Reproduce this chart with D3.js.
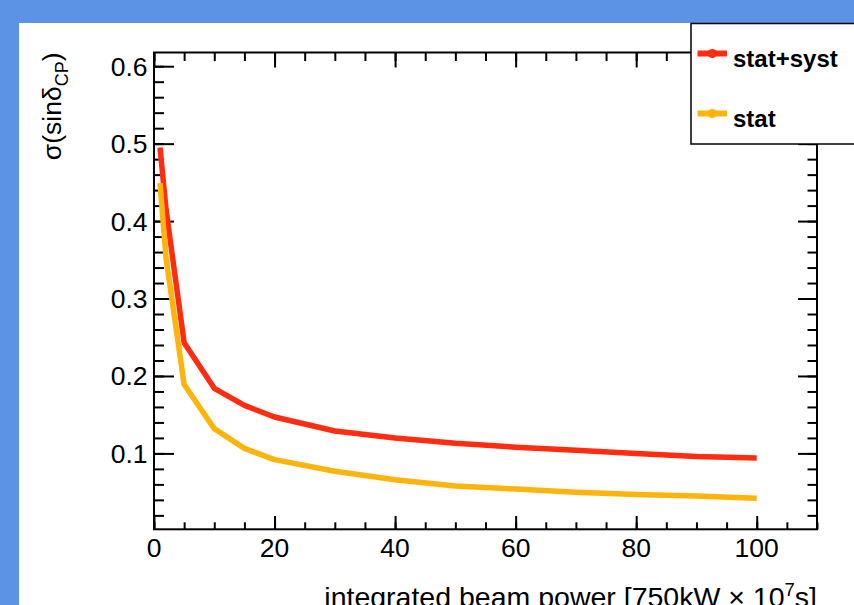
<!DOCTYPE html>
<html>
<head>
<meta charset="utf-8">
<script src="https://cdn.jsdelivr.net/npm/d3@7"></script>
<style>
  html, body { margin: 0; padding: 0; background: #5c93e4; }
  svg { display: block; }
  text { font-family: "Liberation Sans", Arial, Helvetica, sans-serif; fill: #000; }
</style>
</head>
<body>
<svg id="chart" width="854" height="605"></svg>
<script>
// Integrated beam power (units of 750kW x 1e7 s)
const exposure = [1, 2, 5, 10, 15, 20, 30, 40, 50, 60, 70, 80, 90, 100];
// Expected resolution on sin(delta_CP)
const statSyst = [0.495, 0.415, 0.243, 0.184, 0.162, 0.147, 0.129, 0.120, 0.113, 0.108, 0.104, 0.100, 0.096, 0.094];
const statOnly = [0.449, 0.352, 0.189, 0.132, 0.1065, 0.092, 0.077, 0.066, 0.058, 0.054, 0.050, 0.047, 0.045, 0.042];

const xTickValues = [0, 20, 40, 60, 80, 100];
const yTickValues = [0.1, 0.2, 0.3, 0.4, 0.5, 0.6];

const seriesNames = ["stat+syst", "stat"];
const seriesColors = ["#ff2c10", "#ffb40c"];

const svg = d3.select("#chart");

// white pad inside the blue canvas
svg.append("rect").attr("x", 19).attr("y", 23).attr("width", 835).attr("height", 582).attr("fill", "#fff");

const frame = { left: 154, right: 817, top: 52.5, bottom: 529.3 };

const x = d3.scaleLinear().domain([0, 110]).range([frame.left, frame.right]);
const y = d3.scaleLinear().domain([0.002, 0.6177]).range([frame.bottom, frame.top]);

const minorX = d3.range(0, 111, 5);
const minorY = d3.range(1, 31).map(i => +(i * 0.02).toFixed(2));

// axes: ticks drawn inward on all four sides
function tickAxis(axisFn, scale, values, size, g) {
  g.call(axisFn(scale).tickValues(values).tickSize(size).tickFormat(""))
   .call(s => s.select(".domain").remove())
   .call(s => s.selectAll(".tick line").attr("stroke", "#000").attr("stroke-width", 2));
}

const bottomMinor = svg.append("g").attr("transform", `translate(0,${frame.bottom})`);
tickAxis(d3.axisTop, x, minorX, 7, bottomMinor);
const bottomMajor = svg.append("g").attr("transform", `translate(0,${frame.bottom})`);
tickAxis(d3.axisTop, x, xTickValues, 13.3, bottomMajor);

const topMinor = svg.append("g").attr("transform", `translate(0,${frame.top})`);
tickAxis(d3.axisBottom, x, minorX, 8.5, topMinor);
const topMajor = svg.append("g").attr("transform", `translate(0,${frame.top})`);
tickAxis(d3.axisBottom, x, xTickValues, 15, topMajor);

const leftMinor = svg.append("g").attr("transform", `translate(${frame.left},0)`);
tickAxis(d3.axisRight, y, minorY, 10, leftMinor);
const leftMajor = svg.append("g").attr("transform", `translate(${frame.left},0)`);
tickAxis(d3.axisRight, y, yTickValues, 20, leftMajor);

const rightMinor = svg.append("g").attr("transform", `translate(${frame.right},0)`);
tickAxis(d3.axisLeft, y, minorY, 9.5, rightMinor);
const rightMajor = svg.append("g").attr("transform", `translate(${frame.right},0)`);
tickAxis(d3.axisLeft, y, yTickValues, 19, rightMajor);

// frame
svg.append("rect")
  .attr("x", frame.left).attr("y", frame.top)
  .attr("width", frame.right - frame.left).attr("height", frame.bottom - frame.top)
  .attr("fill", "none").attr("stroke", "#000").attr("stroke-width", 2);

// tick labels
svg.append("g").selectAll("text").data(xTickValues).join("text")
  .attr("x", d => x(d)).attr("y", 556.5)
  .attr("text-anchor", "middle").attr("font-size", 26.5)
  .text(d => d);

svg.append("g").selectAll("text").data(yTickValues).join("text")
  .attr("x", 147.5).attr("y", d => y(d) + 9.5)
  .attr("text-anchor", "end").attr("font-size", 26.5)
  .text(d => d.toFixed(1));

// axis titles
const xTitle = svg.append("text")
  .attr("x", frame.right).attr("y", 607)
  .attr("text-anchor", "end").attr("font-size", 28.5);
xTitle.append("tspan").text("integrated beam power [750kW \u00d7 10");
xTitle.append("tspan").attr("font-size", 18.5).attr("dy", -11).text("7");
xTitle.append("tspan").attr("dy", 11).text("s]");

const yTitle = svg.append("text")
  .attr("transform", `translate(61,${frame.top}) rotate(-90)`)
  .attr("text-anchor", "end").attr("font-size", 26.5);
yTitle.append("tspan").text("\u03c3(sin\u03b4");
yTitle.append("tspan").attr("font-size", 18).attr("dy", 7).text("CP");
yTitle.append("tspan").attr("dy", -7).text(")");

// curves
const line = d3.line().x(d => x(d[0])).y(d => y(d[1]));
[statSyst, statOnly].forEach((vals, i) => {
  svg.append("path")
    .datum(exposure.map((e, k) => [e, vals[k]]))
    .attr("d", line)
    .attr("fill", "none")
    .attr("stroke", seriesColors[i])
    .attr("stroke-width", 5.5)
    .attr("stroke-linejoin", "round");
});

// legend
const legend = svg.append("g");
legend.append("rect")
  .attr("x", 691).attr("y", 23.5).attr("width", 180).attr("height", 120.5)
  .attr("fill", "#fff").attr("stroke", "#000").attr("stroke-width", 1.5);
const legendRows = [53.5, 113.5];
seriesNames.forEach((name, i) => {
  const ly = legendRows[i];
  legend.append("line")
    .attr("x1", 697.5).attr("x2", 727).attr("y1", ly).attr("y2", ly)
    .attr("stroke", seriesColors[i]).attr("stroke-width", 6);
  legend.append("circle")
    .attr("cx", 712.3).attr("cy", ly).attr("r", 4.6)
    .attr("fill", seriesColors[i]);
  legend.append("text")
    .attr("x", 733).attr("y", ly + 13.3)
    .attr("font-size", 24).attr("font-weight", "bold")
    .text(name);
});
</script>
</body>
</html>
